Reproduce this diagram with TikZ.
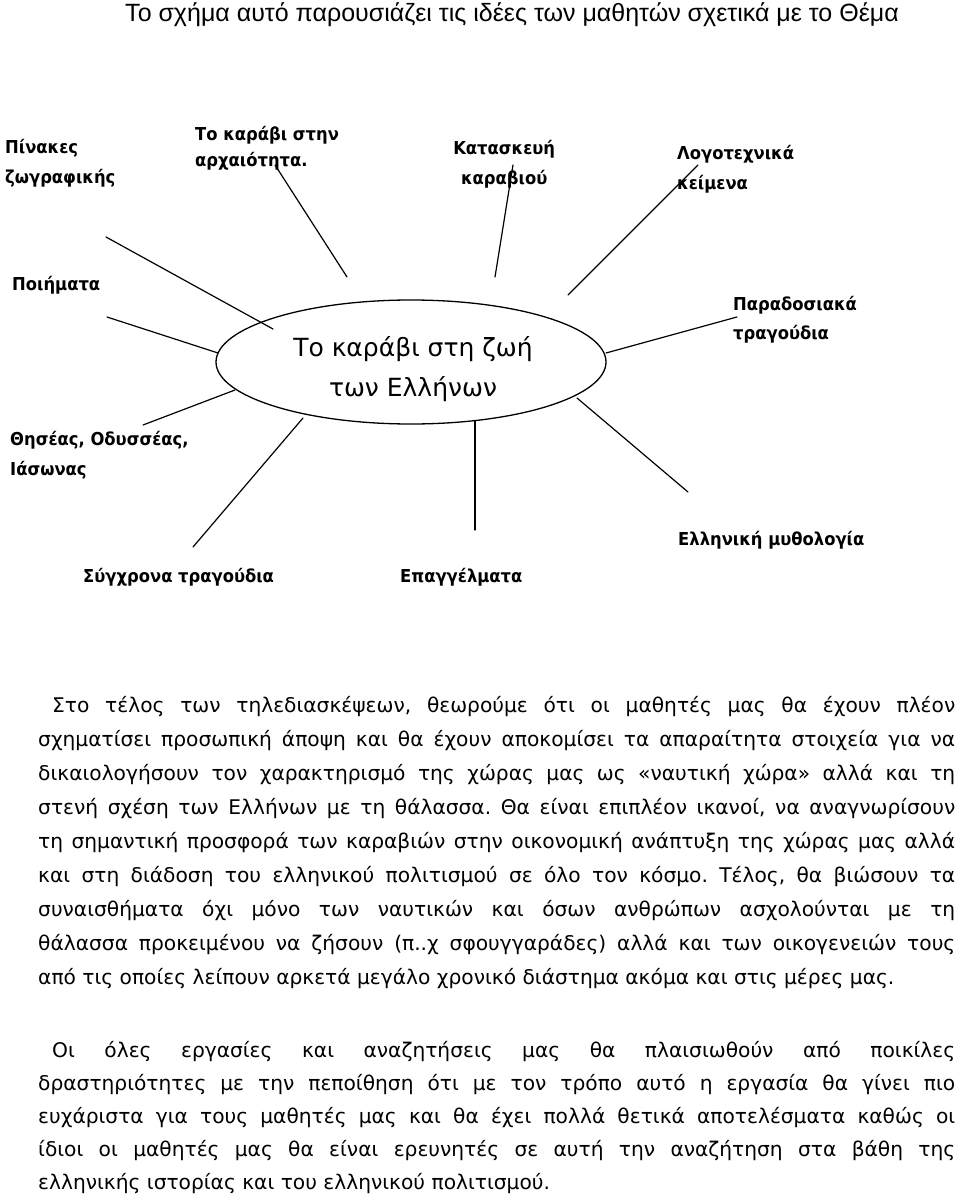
\documentclass[tikz,border=0pt]{standalone}
\usepackage{fontspec}
\setmainfont{DejaVu Sans}
\newfontfamily\titlefont{Liberation Sans}
\newfontfamily\labfont[FakeStretch=0.92]{DejaVu Sans}
\usetikzlibrary{shapes.geometric}
\newcommand\twolab[4]{\parbox[t]{#1}{\raggedright\baselineskip=#2 #3\\#4}}
\newcommand\twolabc[4]{\parbox[t]{#1}{\centering\baselineskip=#2 #3\\#4}}
\newcommand\jline[2]{\makebox[#1][s]{#2}}
\frenchspacing
\begin{document}
\begin{tikzpicture}[x=1pt,y=-1pt,
  lab/.style={anchor=base west,inner sep=0pt,font=\labfont\fontsize{17.8}{20}\selectfont\bfseries},
  conn/.style={line width=1.2pt,line cap=round},
  bodytext/.style={anchor=base west,inner sep=0pt,font=\fontsize{20.2}{34}\selectfont}]
\useasboundingbox (0,0) rectangle (960,1201);
\fill[white] (0,0) rectangle (960,1201);

% title
\node[anchor=base west,inner sep=0pt,font=\titlefont\fontsize{25}{28}\selectfont] (title) at (125,22)
  {Το σχήμα αυτό παρουσιάζει τις ιδέες των μαθητών σχετικά με το Θέμα};

% hub
\node[draw,ellipse,line width=1.3pt,minimum width=390pt,minimum height=124pt,inner sep=0pt] (hub) at (411,362) {};
\node[inner sep=0pt,align=center,font=\fontsize{25}{40}\selectfont] (ctext) at (413,369)
  {Το καράβι στη ζωή\\των Ελλήνων};

% labels
\node[lab] (pin) at (5,154) {\twolab{4cm}{30pt}{Πίνακες}{ζωγραφικής}};
\node[lab] (arx) at (195,141) {\twolab{6cm}{26pt}{Το καράβι στην}{αρχαιότητα.}};
\node[lab] (kat) at (452,155) {\twolabc{104pt}{30pt}{Κατασκευή}{καραβιού}};
\node[lab] (log) at (677,160) {\twolab{5cm}{30pt}{Λογοτεχνικά}{κείμενα}};
\node[lab] (poi) at (12,290) {Ποιήματα};
\node[lab] (par) at (733,310) {\twolab{5cm}{29pt}{Παραδοσιακά}{τραγούδια}};
\node[lab] (the) at (10,445) {\twolab{8cm}{30pt}{Θησέας, Οδυσσέας,}{Ιάσωνας}};
\node[lab] (syg) at (83,582) {Σύγχρονα τραγούδια};
\node[lab] (epa) at (400,582) {Επαγγέλματα};
\node[lab] (mut) at (678,545) {Ελληνική μυθολογία};

% connector ends
\coordinate (a1) at (106,237); \coordinate (b1) at (273,329);
\coordinate (a2) at (275,165); \coordinate (b2) at (347,277);
\coordinate (a3) at (513,165); \coordinate (b3) at (495,277);
\coordinate (a4) at (698,165); \coordinate (b4) at (568,295);
\coordinate (a5) at (107,317); \coordinate (b5) at (218,353);
\coordinate (a6) at (737,317); \coordinate (b6) at (606,353);
\coordinate (a7) at (143,425); \coordinate (b7) at (235,390);
\coordinate (a8) at (193,547); \coordinate (b8) at (303,418);
\coordinate (a9) at (475,530); \coordinate (b9) at (475,421);
\coordinate (a10) at (688,492); \coordinate (b10) at (577,398);
\foreach \i in {1,...,10} \draw[conn] (a\i) -- (b\i);

% body paragraph 1
\node[bodytext] (par1) at (38,712) {\parbox[t]{917pt}{\baselineskip=34pt
\hspace*{14pt}\jline{903pt}{Στο τέλος των τηλεδιασκέψεων, θεωρούμε ότι οι μαθητές μας θα έχουν πλέον}\\
\jline{917pt}{σχηματίσει προσωπική άποψη και θα έχουν αποκομίσει τα απαραίτητα στοιχεία για να}\\
\jline{917pt}{δικαιολογήσουν τον χαρακτηρισμό της χώρας μας ως «ναυτική χώρα» αλλά και τη}\\
\jline{917pt}{στενή σχέση των Ελλήνων με τη θάλασσα. Θα είναι επιπλέον ικανοί, να αναγνωρίσουν}\\
\jline{917pt}{τη σημαντική προσφορά των καραβιών στην οικονομική ανάπτυξη της χώρας μας αλλά}\\
\jline{917pt}{και στη διάδοση του ελληνικού πολιτισμού σε όλο τον κόσμο. Τέλος, θα βιώσουν τα}\\
\jline{917pt}{συναισθήματα όχι μόνο των ναυτικών και όσων ανθρώπων ασχολούνται με τη}\\
\jline{917pt}{θάλασσα προκειμένου να ζήσουν (π..χ σφουγγαράδες) αλλά και των οικογενειών τους}\\
από τις οποίες λείπουν αρκετά μεγάλο χρονικό διάστημα ακόμα και στις μέρες μας.}};

% body paragraph 2
\node[bodytext] (par2) at (38,1057) {\parbox[t]{917pt}{\baselineskip=33pt
\hspace*{14pt}\jline{903pt}{Οι όλες εργασίες και αναζητήσεις μας θα πλαισιωθούν από ποικίλες}\\
\jline{917pt}{δραστηριότητες με την πεποίθηση ότι με τον τρόπο αυτό η εργασία θα γίνει πιο}\\
\jline{917pt}{ευχάριστα για τους μαθητές μας και θα έχει πολλά θετικά αποτελέσματα καθώς οι}\\
\jline{917pt}{ίδιοι οι μαθητές μας θα είναι ερευνητές σε αυτή την αναζήτηση στα βάθη της}\\
ελληνικής ιστορίας και του ελληνικού πολιτισμού.}};
\end{tikzpicture}
\end{document}
